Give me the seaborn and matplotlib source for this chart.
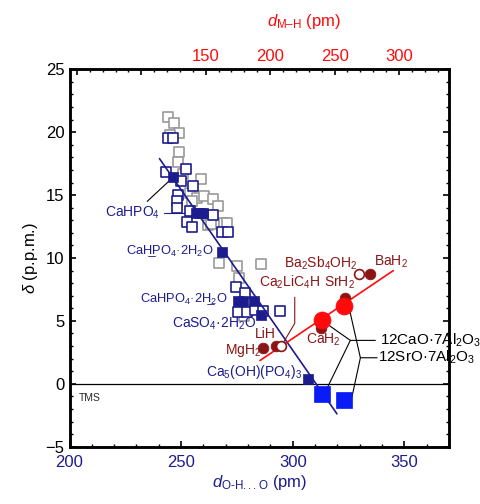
import matplotlib
matplotlib.use("Agg")
import matplotlib.pyplot as plt
from matplotlib.ticker import MultipleLocator, FixedLocator, FixedFormatter
import numpy as np
import pandas as pd
import seaborn as sns

navy = "#1c1c8f"
blue = "#0a1cf5"
red = "#ff0a0a"
dred = "#8c1414"
gray = "#9a9a9a"

# O-H...O hydrogen-bonded compounds (bottom axis, pm) vs delta (ppm)
gray_x = [243.9, 246.9, 249.2, 244.8, 248.9, 248.8, 251.0, 258.9, 254.0, 257.0, 260.3, 264.5,
          266.7, 254.8, 262.1, 263.3, 269.0, 270.5, 267.0, 274.9, 285.7, 276.0, 278.3]
gray_y = [21.2, 20.7, 19.9, 19.8, 18.4, 17.6, 16.7, 16.3, 15.2, 14.8, 14.9, 14.7,
          14.1, 14.5, 12.6, 12.7, 12.8, 12.8, 9.6, 9.4, 9.5, 8.4, 5.4]

open_x = [244.3, 246.3, 252.2, 243.3, 249.9, 255.5, 248.5, 248.1, 248.3, 254.0, 264.5,
          252.6, 254.8, 268.3, 270.8, 274.7, 278.7, 275.6, 279.5, 283.2, 286.6, 294.1]
open_y = [19.5, 19.5, 17.1, 16.8, 16.1, 15.7, 15.0, 14.5, 14.0, 13.7, 13.4,
          12.9, 12.5, 12.1, 12.1, 7.7, 7.2, 5.7, 5.7, 5.9, 5.8, 5.8]

filled_x = [246.3, 256.7, 258.5, 260.0, 268.3, 275.7, 277.9, 282.7, 285.9, 306.8]
filled_y = [16.4, 13.6, 13.6, 13.6, 10.5, 6.55, 6.55, 6.55, 5.5, 0.4]

# 12CaO.7Al2O3 / 12SrO.7Al2O3 OH- (bottom axis)
c12_x = [313.1, 322.8]
c12_y = [-0.8, -1.25]

# metal hydrides (top axis, d M-H in pm)
c12h_top = [240.0, 257.3]
c12h_y = [5.1, 6.15]
hyd_top = [194.7, 204.5, 239.2, 258.3, 277.5]
hyd_y = [2.83, 3.02, 4.46, 6.85, 8.76]
hyd_open_top = [208.2, 269.2]
hyd_open_y = [3.02, 8.76]

# fitted lines (end points)
fit_oho_x = [240.3, 319.8]
fit_oho_y = [17.9, -2.39]
fit_mh_x = [192.1, 295.6]
fit_mh_y = [1.85, 9.0]

sns.set_theme(style="ticks")
plt.rcParams["font.family"] = ["Liberation Sans", "DejaVu Sans"]
plt.rcParams["mathtext.fontset"] = "custom"
plt.rcParams["mathtext.rm"] = "Liberation Sans"
plt.rcParams["mathtext.it"] = "Liberation Sans:italic"

fig = plt.figure(figsize=(4.81, 5.04), dpi=100)
ax = fig.add_axes([0.1445, 0.1137, 0.789, 0.7488])
ax.set_xlim(200, 370)
ax.set_ylim(-5, 25)
ax2 = ax.twiny()
ax2.set_xlim(44.3, 338.8)

ax.axhline(0, color="black", lw=0.9, zorder=1)
ax.text(204.3, -1.1, "TMS", fontsize=7.5, va="center", ha="left")

df_gray = pd.DataFrame({"x": gray_x, "y": gray_y})
df_open = pd.DataFrame({"x": open_x, "y": open_y})
df_fill = pd.DataFrame({"x": filled_x, "y": filled_y})
sns.scatterplot(data=df_gray, x="x", y="y", marker="s", s=42, color="white",
                edgecolor=gray, linewidth=1.2, ax=ax, zorder=2)
sns.scatterplot(data=df_open, x="x", y="y", marker="s", s=42, color="white",
                edgecolor=navy, linewidth=1.2, ax=ax, zorder=3)
sns.lineplot(x=fit_oho_x, y=fit_oho_y, color=navy, lw=1.2, ax=ax, zorder=4)
sns.scatterplot(data=df_fill, x="x", y="y", marker="s", s=55, color=navy,
                edgecolor=navy, linewidth=0.5, ax=ax, zorder=5)
sns.scatterplot(x=c12_x, y=c12_y, marker="s", s=120, color=blue, edgecolor=blue,
                linewidth=0.5, ax=ax, zorder=5)

sns.lineplot(x=fit_mh_x, y=fit_mh_y, color=red, lw=1.2, ax=ax2, zorder=2)
sns.scatterplot(x=hyd_top, y=hyd_y, marker="o", s=60, color=dred, edgecolor=dred,
                linewidth=0.5, ax=ax2, zorder=3)
sns.scatterplot(x=hyd_open_top, y=hyd_open_y, marker="o", s=50, color="white",
                edgecolor=dred, linewidth=1.2, ax=ax2, zorder=3)
sns.scatterplot(x=c12h_top, y=c12h_y, marker="o", s=150, color=red, edgecolor=red,
                linewidth=0.5, ax=ax2, zorder=4)

# connectors
k = dict(color="black", lw=0.8, zorder=1)
ax.plot([234.8, 246.3], [14.5, 16.4], **k)
ax.plot([242.4, 254.0], [13.6, 13.6], color=navy, lw=0.8, zorder=1)
ax.plot([300.9, 300.9, 295.1], [6.88, 4.81, 3.06], color=dred, lw=0.8, zorder=1)
ax.plot([337.0, 325.8, 315.0], [3.45, 3.45, 4.8], **k)
ax.plot([325.8, 315.6], [3.45, -0.27], **k)
ax.plot([337.8, 330.3, 325.5], [2.07, 2.07, 5.84], **k)
ax.plot([330.3, 326.5], [2.07, -1.07], **k)

fs = 10
ax.text(215.9, 13.6, "CaHPO$_4$", color=navy, fontsize=fs, va="center")
ax.text(225.2, 10.55, "CaH\u0332PO$_4$\u00b72H$_2$O", color=navy, fontsize=9.3, va="center")
ax.text(231.6, 6.77, "CaHPO$_4$\u00b72H\u0332$_2$O", color=navy, fontsize=9.3, va="center")
ax.text(245.8, 4.78, "CaSO$_4$\u00b72H$_2$O", color=navy, fontsize=fs, va="center")
ax.text(261.2, 0.92, "Ca$_5$(OH)(PO$_4$)$_3$", color=navy, fontsize=fs, va="center")
ax.text(269.8, 2.65, "MgH$_2$", color=dred, fontsize=fs, va="center")
ax.text(283.2, 3.98, "LiH", color=dred, fontsize=fs, va="center")
ax.text(284.7, 8.1, "Ca$_2$LiC$_4$H", color=dred, fontsize=fs, va="center")
ax.text(296.3, 9.6, "Ba$_2$Sb$_4$OH$_2$", color=dred, fontsize=fs, va="center")
ax.text(314.1, 8.0, "SrH$_2$", color=dred, fontsize=fs, va="center")
ax.text(336.2, 9.7, "BaH$_2$", color=dred, fontsize=fs, va="center")
ax.text(306.1, 3.5, "CaH$_2$", color=dred, fontsize=fs, va="center")
ax.text(339.2, 3.45, "12CaO\u00b77Al$_2$O$_3$", color="black", fontsize=11, va="center")
ax.text(338.3, 2.07, "12SrO\u00b77Al$_2$O$_3$", color="black", fontsize=11, va="center")

# axes styling
for a in (ax, ax2):
    for s in a.spines.values():
        s.set_linewidth(1.8)
        s.set_color("black")
ax.xaxis.set_major_locator(MultipleLocator(50))
ax.xaxis.set_minor_locator(MultipleLocator(10))
ax.yaxis.set_major_locator(MultipleLocator(5))
ax.yaxis.set_minor_locator(MultipleLocator(1))
ax.tick_params(which="both", direction="in", top=False, left=True, right=True, color="black")
ax.tick_params(which="major", length=4, width=1.2)
ax.tick_params(which="minor", length=2.5, width=1.0)
ax.tick_params(axis="x", labelcolor=navy, labelsize=12, pad=6)
ax.tick_params(axis="y", labelsize=12, labelcolor="black", labelleft=True)

ax2.xaxis.set_major_locator(FixedLocator([50, 100, 150, 200, 250, 300]))
ax2.xaxis.set_major_formatter(FixedFormatter(["", "", "150", "200", "250", "300"]))
ax2.xaxis.set_minor_locator(MultipleLocator(10))
ax2.tick_params(axis="x", which="both", direction="in", color="black")
ax2.tick_params(axis="x", which="major", length=4, width=1.2, labelsize=12, labelcolor=red, pad=4)
ax2.tick_params(axis="x", which="minor", length=2.5, width=1.0)

ax.set_xlabel("$d_{\\mathrm{O\u2010H...O}}$ (pm)", color=navy, fontsize=12, labelpad=2)
ax.set_ylabel("$\\delta$ (p.p.m.)", color="black", fontsize=12, labelpad=4)
ax2.set_xlabel("$d_{\\mathrm{M\u2013H}}$ (pm)", color=red, fontsize=12, labelpad=10)
ax2.xaxis.set_label_coords(0.619, 1.115)

fig.savefig("out.png", dpi=100)
